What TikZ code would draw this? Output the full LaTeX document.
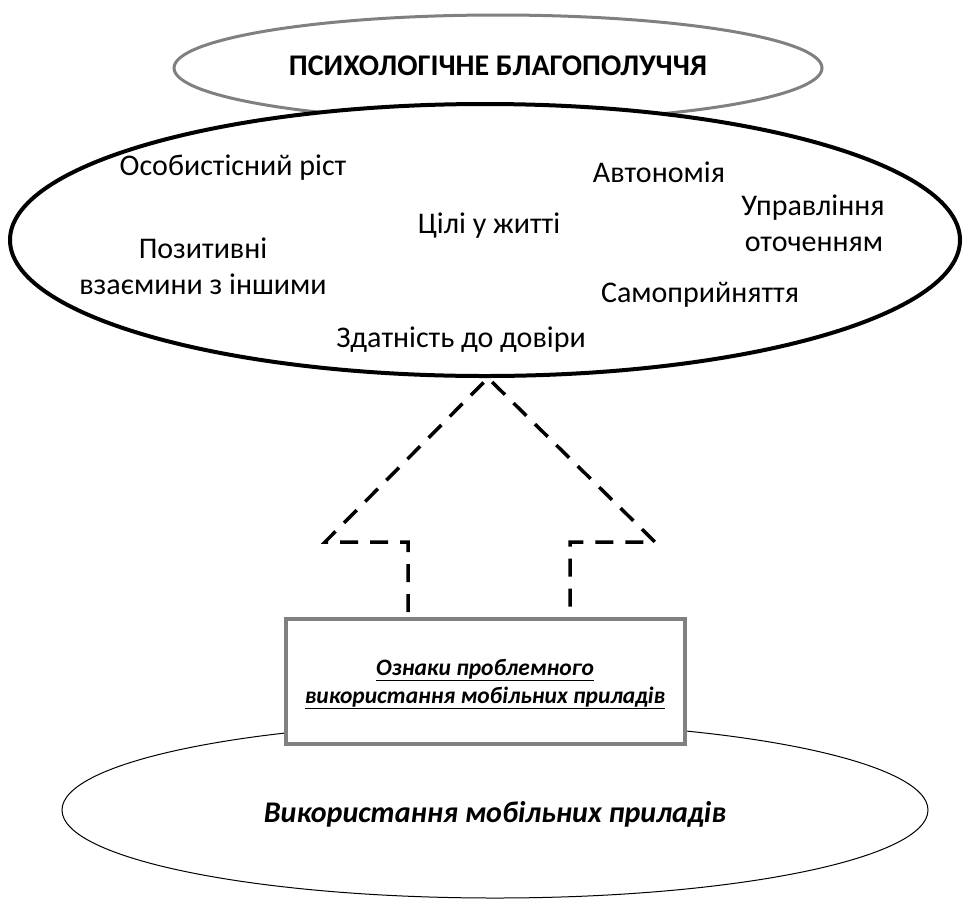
\documentclass[tikz,border=0pt]{standalone}
\usepackage{fontspec}
\setmainfont{Carlito}
\usetikzlibrary{shapes.geometric}
\tikzset{
  lbl/.style={font=\fontsize{30}{38}\selectfont, inner sep=0pt, anchor=base},
  dashline/.style={line width=3.5pt, dash pattern=on 18pt off 12pt},
}
\begin{document}
\begin{tikzpicture}[x=1pt,y=-1pt]
\useasboundingbox (0,0) rectangle (968,898);
% top grey ellipse
\node[ellipse, draw=black!50, line width=3pt, fill=white, minimum width=648pt, minimum height=106pt, inner sep=0pt] (top) at (498,68) {};
% big ellipse
\node[ellipse, draw=black, line width=4pt, fill=white, minimum width=950pt, minimum height=272pt, inner sep=0pt] (big) at (485,240) {};
\node[font=\bfseries\fontsize{30}{34}\selectfont, inner sep=0pt, anchor=base] (title) at (498,75) {ПСИХОЛОГІЧНЕ БЛАГОПОЛУЧЧЯ};
% labels
\node[lbl] (osob) at (233,175) {Особистісний ріст};
\node[lbl] (avt) at (659,182) {Автономія};
\node[lbl] (upr1) at (813,215) {Управління};
\node[lbl] (upr2) at (814,251) {оточенням};
\node[lbl] (cili) at (489,233) {Цілі у житті};
\node[lbl] (poz1) at (203,258) {Позитивні};
\node[lbl] (poz2) at (203,294) {взаємини з іншими};
\node[lbl] (sam) at (700,302) {Самоприйняття};
\node[lbl] (zdat) at (461,347) {Здатність до довіри};
% dashed arrow
\coordinate (apex) at (488,378);
\coordinate (l1) at (325,542);
\coordinate (l2) at (408,542);
\coordinate (l3) at (408,612);
\coordinate (r1) at (655,542);
\coordinate (r2) at (570,542);
\coordinate (r3) at (570,612);
\draw[dashline] (l3) -- (l2) -- (l1) -- (apex) -- (r1) -- (r2) -- (r3);
% bottom ellipse
\node[ellipse, draw=black, line width=1pt, fill=white, minimum width=866pt, minimum height=176pt, inner sep=0pt] (bot) at (495,810) {};
\node[font=\bfseries\itshape\fontsize{30}{34}\selectfont, inner sep=0pt, anchor=base] (use) at (495,822) {Використання мобільних приладів};
% box
\node[draw=black!50, line width=4.5pt, fill=white, minimum width=399pt, minimum height=125pt, inner sep=0pt] (box) at (485.5,681.5) {};
\node[font=\bfseries\itshape\fontsize{23.5}{30}\selectfont, inner sep=0pt, anchor=base] (boxt1) at (485,675) {\underline{Ознаки проблемного}};
\node[font=\bfseries\itshape\fontsize{23.5}{30}\selectfont, inner sep=0pt, anchor=base] (boxt2) at (485,703) {\underline{використання мобільних приладів}};
\end{tikzpicture}
\end{document}
